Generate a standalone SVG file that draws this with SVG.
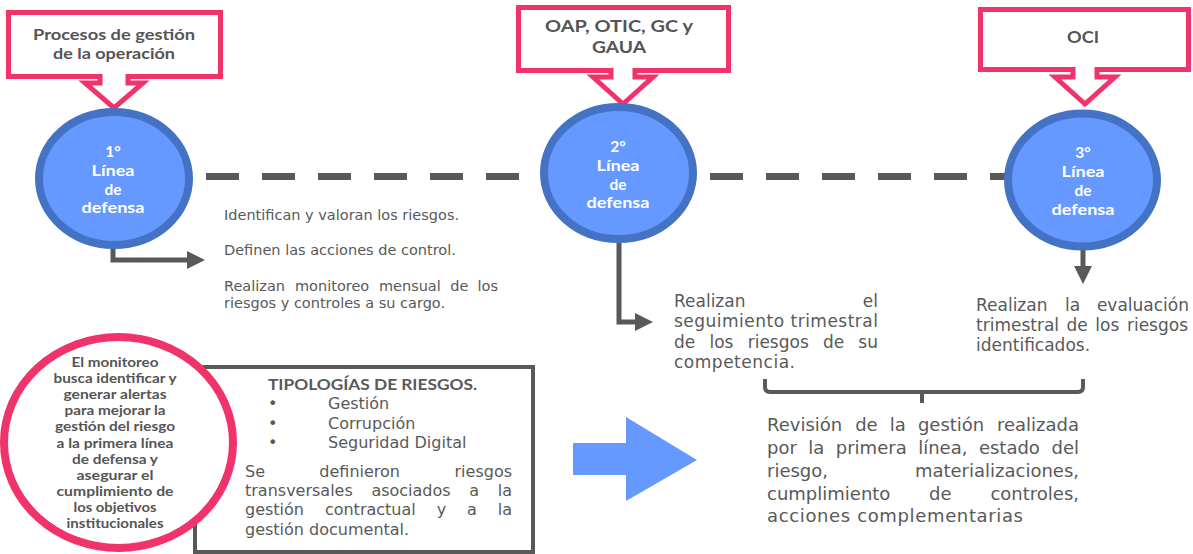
<svg xmlns="http://www.w3.org/2000/svg" width="1193" height="554" viewBox="0 0 1193 554">
<style>
  .callout { fill: #ffffff; stroke: #F0336A; stroke-width: 5; stroke-linejoin: miter; }
  .ctext { font-family: Lato, "Open Sans", sans-serif; font-weight: 700; fill: #555555; text-anchor: middle; }
  .line { fill: #6699FF; stroke: #4472C4; stroke-width: 8; }
  .ltext { font-family: Lato, "Open Sans", sans-serif; font-weight: 700; font-size: 15.5px; fill: #ffffff; text-anchor: middle; }
  .conn { fill: none; stroke: #595959; stroke-width: 5; }
  .body { font-family: "DejaVu Sans", Verdana, sans-serif; fill: #595959; }
  .end { text-anchor: end; }
  .pink { fill: #ffffff; stroke: #F0336A; stroke-width: 8; }
  .ptext { font-family: Lato, "Open Sans", sans-serif; font-weight: 700; font-size: 13px; fill: #555555; text-anchor: middle; }
</style>
<defs>
  <marker id="ah" markerUnits="userSpaceOnUse" markerWidth="18" markerHeight="18" refX="0" refY="9" orient="auto">
    <path d="M0,0 L18,9 L0,18 Z" fill="#595959"/>
  </marker>
</defs>
<rect width="1193" height="554" fill="#ffffff"/>

<g id="connectors">
  <line x1="206" y1="176.5" x2="1005" y2="176.5" stroke="#595959" stroke-width="7" stroke-dasharray="33 23"/>
  <path class="conn" d="M113,244 V260 H187" marker-end="url(#ah)"/>
  <path class="conn" d="M619,240 V322 H635" marker-end="url(#ah)"/>
  <path class="conn" d="M1083,246 V266" marker-end="url(#ah)"/>
  <path d="M765,379 V387 Q765,392 770,392 H1078 Q1083,392 1083,387 V379 M922,392 V403" fill="none" stroke="#595959" stroke-width="4"/>
</g>

<g id="callout1">
  <path class="callout" d="M8.5,12.5 H220.5 V76.5 H128 V83 H143 L114,108 L85,83 H100 V76.5 H8.5 Z"/>
  <text class="ctext" font-size="15.5"><tspan x="114" y="40" textLength="162" lengthAdjust="spacingAndGlyphs">Procesos de gestión</tspan><tspan x="114" y="59" textLength="122" lengthAdjust="spacingAndGlyphs">de la operación</tspan></text>
</g>
<g id="callout2">
  <path class="callout" d="M518.5,7.5 H728.5 V70.5 H635 V77 H653 L623,104 L593,77 H611 V70.5 H518.5 Z"/>
  <text class="ctext" font-size="17.5"><tspan x="619" y="32" textLength="148" lengthAdjust="spacingAndGlyphs">OAP, OTIC, GC y</tspan><tspan x="619" y="53" textLength="54" lengthAdjust="spacingAndGlyphs">GAUA</tspan></text>
</g>
<g id="callout3">
  <path class="callout" d="M980.5,9.5 H1188.5 V69.5 H1097 V77 H1115 L1085,104 L1055,77 H1073 V69.5 H980.5 Z"/>
  <text class="ctext" font-size="17.5" x="1083" y="43" textLength="32" lengthAdjust="spacingAndGlyphs">OCI</text>
</g>

<g id="linea1">
  <ellipse class="line" cx="114" cy="178.5" rx="75" ry="66.5"/>
  <text class="ltext"><tspan x="113" y="157">1°</tspan><tspan x="113" y="175.5" textLength="43" lengthAdjust="spacingAndGlyphs">Línea</tspan><tspan x="113" y="194.5">de</tspan><tspan x="113" y="213" textLength="63" lengthAdjust="spacingAndGlyphs">defensa</tspan></text>
</g>
<g id="linea2">
  <ellipse class="line" cx="618.5" cy="173" rx="74.5" ry="66"/>
  <text class="ltext"><tspan x="618" y="152">2°</tspan><tspan x="618" y="170.5" textLength="43" lengthAdjust="spacingAndGlyphs">Línea</tspan><tspan x="618" y="189.5">de</tspan><tspan x="618" y="208" textLength="63" lengthAdjust="spacingAndGlyphs">defensa</tspan></text>
</g>
<g id="linea3">
  <ellipse class="line" cx="1082.5" cy="180" rx="74.5" ry="66.5"/>
  <text class="ltext"><tspan x="1083" y="158">3°</tspan><tspan x="1083" y="177" textLength="43" lengthAdjust="spacingAndGlyphs">Línea</tspan><tspan x="1083" y="196">de</tspan><tspan x="1083" y="215" textLength="63" lengthAdjust="spacingAndGlyphs">defensa</tspan></text>
</g>

<g id="texto1">
  <text class="body" font-size="14.5"><tspan x="224" y="220">Identifican y valoran los riesgos.</tspan><tspan x="224" y="255">Definen las acciones de control.</tspan><tspan x="224" y="291">Realizan</tspan><tspan x="295" y="291">monitoreo</tspan><tspan x="378.9" y="291">mensual</tspan><tspan x="450.2" y="291">de</tspan><tspan class="end" x="498" y="291">los</tspan><tspan x="224" y="308">riesgos y controles a su cargo.</tspan></text>
</g>

<g id="texto2">
  <text class="body" font-size="17"><tspan x="674" y="307">Realizan</tspan><tspan class="end" x="878" y="307">el</tspan><tspan x="674" y="327" textLength="204">seguimiento trimestral</tspan><tspan x="674" y="348">de</tspan><tspan x="709.5" y="348">los</tspan><tspan x="747.7" y="348">riesgos</tspan><tspan x="823" y="348">de</tspan><tspan class="end" x="878" y="348">su</tspan><tspan x="674" y="368" textLength="121">competencia.</tspan></text>
</g>

<g id="texto3">
  <text class="body" font-size="17"><tspan x="976" y="311">Realizan</tspan><tspan x="1065" y="311">la</tspan><tspan class="end" x="1189" y="311">evaluación</tspan><tspan x="976" y="331">trimestral</tspan><tspan x="1066.5" y="331">de</tspan><tspan x="1095.3" y="331">los</tspan><tspan class="end" x="1188" y="331">riesgos</tspan><tspan x="976" y="351">identificados.</tspan></text>
</g>

<g id="texto4">
  <text class="body" font-size="18"><tspan x="767" y="431">Revisión</tspan><tspan x="855.2" y="431">de</tspan><tspan x="889.8" y="431">la</tspan><tspan x="917.9" y="431">gestión</tspan><tspan class="end" x="1079" y="431">realizada</tspan><tspan x="767" y="454">por</tspan><tspan x="808.3" y="454">la</tspan><tspan x="835.8" y="454">primera</tspan><tspan x="918.2" y="454">línea,</tspan><tspan x="978.9" y="454">estado</tspan><tspan class="end" x="1079" y="454">del</tspan><tspan x="767" y="477">riesgo,</tspan><tspan class="end" x="1079" y="477">materializaciones,</tspan><tspan x="767" y="500">cumplimiento</tspan><tspan x="929" y="500">de</tspan><tspan class="end" x="1079" y="500">controles,</tspan><tspan x="767" y="522" textLength="256">acciones complementarias</tspan></text>
</g>

<g id="flecha">
  <polygon points="573,443 626,443 626,417 697,460 626,501 626,475 573,475" fill="#6699FF"/>
</g>

<g id="tipologias">
  <rect x="195" y="367" width="338" height="185" fill="#ffffff" stroke="#595959" stroke-width="4"/>
  <text x="268" y="390" font-family="Lato, 'Open Sans', sans-serif" font-size="15.5" font-weight="700" fill="#595959" textLength="209" lengthAdjust="spacingAndGlyphs">TIPOLOGÍAS DE RIESGOS.</text>
  <text class="body" font-size="16"><tspan x="268" y="409">•</tspan><tspan x="328" y="409">Gestión</tspan><tspan x="268" y="429">•</tspan><tspan x="328" y="429">Corrupción</tspan><tspan x="268" y="448">•</tspan><tspan x="328" y="448">Seguridad Digital</tspan></text>
  <text class="body" font-size="16"><tspan x="245" y="477">Se</tspan><tspan x="319.3" y="477">definieron</tspan><tspan class="end" x="512" y="477">riesgos</tspan><tspan x="245" y="496">transversales</tspan><tspan x="371.4" y="496">asociados</tspan><tspan x="469.3" y="496">a</tspan><tspan class="end" x="512" y="496">la</tspan><tspan x="245" y="515">gestión</tspan><tspan x="324.9" y="515">contractual</tspan><tspan x="436.7" y="515">y</tspan><tspan x="467.1" y="515">a</tspan><tspan class="end" x="512" y="515">la</tspan><tspan x="245" y="535">gestión documental.</tspan></text>
</g>

<g id="monitoreo">
  <ellipse class="pink" cx="118.5" cy="442.5" rx="114.5" ry="105.5"/>
  <text class="ptext"><tspan x="115" y="367" textLength="87" lengthAdjust="spacingAndGlyphs">El monitoreo</tspan><tspan x="115" y="383" textLength="123" lengthAdjust="spacingAndGlyphs">busca identificar y</tspan><tspan x="115" y="399" textLength="103" lengthAdjust="spacingAndGlyphs">generar alertas</tspan><tspan x="115" y="415" textLength="101" lengthAdjust="spacingAndGlyphs">para mejorar la</tspan><tspan x="115" y="431" textLength="120" lengthAdjust="spacingAndGlyphs">gestión del riesgo</tspan><tspan x="115" y="447.5" textLength="117" lengthAdjust="spacingAndGlyphs">a la primera línea</tspan><tspan x="115" y="463.5" textLength="86" lengthAdjust="spacingAndGlyphs">de defensa y</tspan><tspan x="115" y="479.5" textLength="77" lengthAdjust="spacingAndGlyphs">asegurar el</tspan><tspan x="115" y="495.5" textLength="117" lengthAdjust="spacingAndGlyphs">cumplimiento de</tspan><tspan x="115" y="511.5" textLength="83" lengthAdjust="spacingAndGlyphs">los objetivos</tspan><tspan x="115" y="527.5" textLength="97" lengthAdjust="spacingAndGlyphs">institucionales</tspan></text>
</g>
</svg>
